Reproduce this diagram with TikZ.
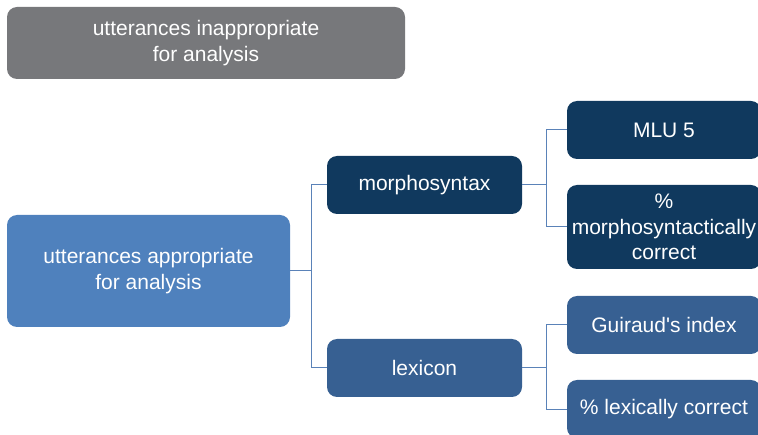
\documentclass[tikz,border=0pt]{standalone}
\usepackage{fontspec}
\setmainfont{Liberation Sans}
\definecolor{graybox}{HTML}{77787B}
\definecolor{lightblue}{HTML}{4F81BD}
\definecolor{navy}{HTML}{10395E}
\definecolor{midblue}{HTML}{376092}
\definecolor{linecol}{HTML}{5A82B8}
\begin{document}
\begin{tikzpicture}[x=1pt,y=1pt,
  box/.style={rectangle,rounded corners=10pt,text=white,align=center,inner sep=0pt,
    font=\fontsize{21}{25.5}\selectfont},
  conn/.style={draw=linecol,line width=1pt}]
\useasboundingbox (0,0) rectangle (758,434);
\clip (0,0) rectangle (758,434);
\node[box,fill=graybox,minimum width=398pt,minimum height=72pt] (inap) at (206,391) {utterances inappropriate\\for analysis};
\node[box,fill=lightblue,minimum width=283pt,minimum height=112pt] (ap) at (148.5,163) {utterances appropriate\\for analysis};
\node[box,fill=navy,minimum width=195pt,minimum height=58pt] (morph) at (424.5,249) {morphosyntax};
\node[box,fill=midblue,minimum width=195pt,minimum height=58pt] (lex) at (424.5,66) {lexicon};
\node[box,fill=navy,minimum width=194pt,minimum height=58pt] (mlu) at (664,304) {MLU 5};
\node[box,fill=navy,minimum width=194pt,minimum height=84pt] (mc) at (664,207) {\%\\morphosyntactically\\correct};
\node[box,fill=midblue,minimum width=194pt,minimum height=58pt] (gi) at (664,109) {Guiraud\textquotesingle s index};
\node[box,fill=midblue,minimum width=194pt,minimum height=58pt] (lc) at (664,25) {\% lexically correct};
\coordinate (j1) at (311,163);
\coordinate (j2) at (546,249);
\coordinate (j3) at (546,66);
\draw[conn] (ap.east) -- (j1) |- (morph.west);
\draw[conn] (j1) |- (lex.west);
\draw[conn] (morph.east) -- (j2) |- (mlu.west);
\draw[conn] (j2) |- (mc.west);
\draw[conn] (lex.east) -- (j3) |- (gi.west);
\draw[conn] (j3) |- (lc.west);
\end{tikzpicture}
\end{document}
